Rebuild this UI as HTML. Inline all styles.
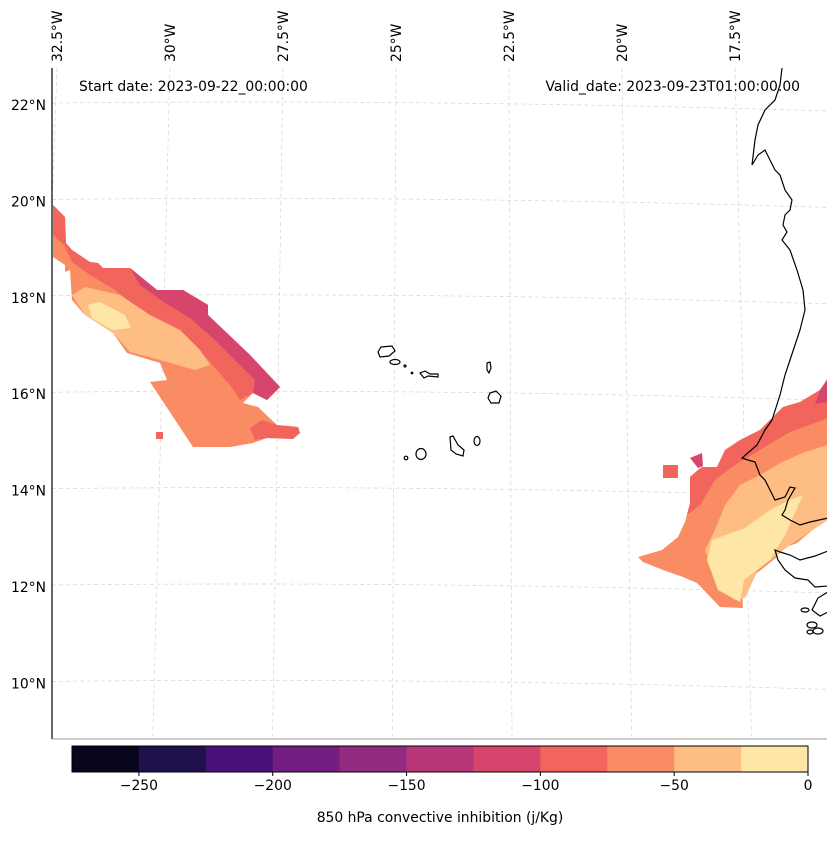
<!DOCTYPE html>
<html><head><meta charset="utf-8"><style>
body{margin:0;background:#fff}
svg text{font-family:"DejaVu Sans","Liberation Sans",sans-serif;font-size:13.9px;fill:#000}
</style></head><body>
<svg id="c" width="837" height="836" viewBox="0 0 837 836">
<defs><clipPath id="pc"><rect x="52" y="68" width="775" height="671"/></clipPath></defs>
<rect x="0" y="0" width="837" height="836" fill="#fff"/>
<g id="grid" stroke="#d4d4d4" stroke-width="0.7" stroke-dasharray="4,3" fill="none" clip-path="url(#pc)"></g>
<g id="fills" clip-path="url(#pc)">
 <polygon fill="#fa8c63" points="53,205 65,217 66,243 72,250 90,262 98,263 103,268 130,268 157,290 183,290 208,305 208,315 250,355 280,387 267,400 253,393 243,403 258,407 277,425 298,427 300,433 293,439 267,438 253,443 230,447 193,447 150,382 167,380 160,363 127,353 113,333 83,313 72,300 70,270 65,272 65,265 53,257"/>
 <polygon fill="#f1655c" points="53,205 65,217 66,243 72,250 90,262 98,263 103,268 130,268 157,290 183,290 208,305 208,315 250,355 280,387 267,400 253,393 240,400 230,385 215,368 195,345 170,330 140,310 115,290 90,275 72,262 64,245 53,235"/>
 <polygon fill="#d6456c" points="130,268 157,290 183,290 208,305 208,315 250,355 280,387 267,400 253,393 255,380 235,360 215,340 190,318 165,303 140,285"/>
 <polygon fill="#f1655c" points="250,428 262,420 277,425 298,427 300,433 293,439 267,438 255,440"/>
 <polygon fill="#fdbd83" points="72,295 85,287 120,295 150,315 180,330 200,350 210,365 195,370 160,360 130,352 113,333 85,315"/>
 <polygon fill="#fde6a6" points="88,305 100,302 125,315 131,328 112,330 92,318"/>
 <rect x="156" y="432" width="7" height="7" fill="#f1655c"/>
 <polygon fill="#fa8c63" points="828,380 820,390 800,402 783,407 773,417 760,430 740,440 725,450 717,467 702,467 698,470 690,477 690,503 685,522 678,537 662,550 638,557 643,562 663,570 683,577 697,583 720,607 743,608 742,592 757,573 777,557 778,550 797,543 828,517"/>
 <polygon fill="#f1655c" points="828,380 820,390 800,402 783,407 773,417 760,430 740,440 725,450 717,467 702,467 698,470 690,477 690,503 687,515 700,505 715,480 735,465 760,450 790,432 828,418"/>
 <polygon fill="#d6456c" points="828,378 828,402 815,404 820,390"/>
 <polygon fill="#d6456c" points="702,453 690,458 698,468 703,466"/>
 <rect x="663" y="465" width="15" height="13" fill="#f1655c"/>
 <polygon fill="#fdbd83" points="828,445 805,452 782,462 760,475 740,485 725,505 715,530 705,550 718,585 735,600 745,598 758,570 790,545 828,520"/>
 <polygon fill="#fde6a6" points="803,495 790,500 770,510 745,528 712,540 707,560 718,590 740,602 744,580 770,560 785,535"/>
</g>
<g fill="none" stroke="#000" stroke-width="1.2" clip-path="url(#pc)">
 <polyline points="782,68 780,85 775,100 765,110 758,125 755,140 752,165 758,155 765,150 770,160 775,170 780,175 785,190 792,200 790,210 785,215 783,225 787,232 782,240 790,250 797,270 803,290 805,310 800,330 795,345 790,360 785,375 780,395 772,420 765,430 757,445 742,458 748,460 755,462 760,475 765,480 770,490 775,500 785,497 790,487 795,488 788,500 785,510 782,515 790,520 800,525 810,522 828,518"/>
 <polyline points="828,551 815,556 800,560 790,555 780,552 775,550 778,560 785,570 795,578 808,580 815,587 828,586"/>
 <polyline points="828,592 818,598 812,610 820,616 828,612"/>
 <ellipse cx="805" cy="610" rx="4" ry="2"/><ellipse cx="812" cy="625" rx="5" ry="3"/><ellipse cx="818" cy="631" rx="5" ry="3"/><ellipse cx="810" cy="632" rx="3" ry="2"/>
 <path d="M378,352 L381,347 L392,346 L395,351 L389,356 L380,357 Z"/>
 <ellipse cx="395" cy="362" rx="5" ry="2.5"/>
 <circle cx="405" cy="366" r="1"/><circle cx="412" cy="373" r="0.8"/>
 <path d="M420,373 L425,371 L430,374 L438,374 L438,377 L428,376 L424,378 Z"/>
 <path d="M487,363 L490,362 L491,368 L489,373 L487,370 Z"/>
 <path d="M490,393 L496,391 L501,396 L499,403 L491,403 L488,398 Z"/>
 <path d="M450,437 L453,436 L458,445 L464,450 L463,456 L456,454 L451,450 Z"/>
 <ellipse cx="477" cy="441" rx="3" ry="4.5"/>
 <ellipse cx="421" cy="454" rx="5" ry="5.5"/>
 <circle cx="406" cy="458" r="1.8"/>
</g>
<line x1="52" y1="68" x2="52" y2="739" stroke="#000" stroke-width="1.2"/>
<line x1="52" y1="739" x2="827" y2="739" stroke="#999" stroke-width="1"/>
<text x="79" y="91">Start date: 2023-09-22_00:00:00</text>
<text x="800" y="91" text-anchor="end">Valid_date: 2023-09-23T01:00:00.00</text>
<g id="latlab"></g>
<g id="lonlab"></g>
<g id="cbar"></g>
<text x="440" y="822" text-anchor="middle">850 hPa convective inhibition (j/Kg)</text>
</svg>
<script>
const cbLevels=[-275,-250,-225,-200,-175,-150,-125,-100,-75,-50,-25,0];
const cbColors=["#07061c","#20114b","#4a1079","#721f81","#932b80","#b73779","#d6456c","#f1655c","#fa8c63","#fdbd83","#fde6a6"];
const cbTicks=[-250,-200,-150,-100,-50,0];
const latVals=[22,20,18,16,14,12,10];
const lonVals=[32.5,30,27.5,25,22.5,20,17.5];
const NS="http://www.w3.org/2000/svg";
function mk(t,a,p){const e=document.createElementNS(NS,t);for(const k in a)e.setAttribute(k,a[k]);p.appendChild(e);return e;}
function latY(lat){return 105+(22-lat)*48.2;}
function lonXtop(lon){return 57+(32.5-lon)*45.2;}
function lonXbot(lon){return 33+(32.5-lon)*47.9;}
const grid=document.getElementById('grid');
latVals.forEach(v=>{const y=latY(v);const l=mk('path',{d:`M52,${y-2} Q440,${y-6} 827,${y+6}`},grid);

});
lonVals.forEach(v=>{const l=mk('line',{x1:lonXtop(v),y1:68,x2:lonXbot(v),y2:739},grid);

});
const latlab=document.getElementById('latlab');
latVals.forEach(v=>{const t=mk('text',{x:46,y:latY(v)+5,'text-anchor':'end'},latlab);t.textContent=v+'°N';

});
const lonlab=document.getElementById('lonlab');
lonVals.forEach(v=>{const x=lonXtop(v)+5;const t=mk('text',{x:x,y:62,transform:`rotate(-90 ${x} 62)`},lonlab);t.textContent=v+'°W';

});
const cb=document.getElementById('cbar');
const cx0=72,cx1=808,cy=746,ch=26;
function cbx(v){return cx0+(v-cbLevels[0])/(cbLevels[cbLevels.length-1]-cbLevels[0])*(cx1-cx0);}
cbColors.forEach((c,i)=>{const r=mk('rect',{x:cbx(cbLevels[i]),y:cy,width:cbx(cbLevels[i+1])-cbx(cbLevels[i])+0.5,height:ch,fill:c},cb);

});
mk('rect',{x:cx0,y:cy,width:cx1-cx0,height:ch,fill:'none',stroke:'#000','stroke-width':1},cb);
cbTicks.forEach(v=>{const x=cbx(v);mk('line',{x1:x,y1:cy+ch,x2:x,y2:cy+ch+4,stroke:'#000'},cb);
const t=mk('text',{x:x,y:cy+ch+18,'text-anchor':'middle'},cb);t.textContent=(v<0?'\u2212'+(-v):v);

});
</script>
</body></html>
